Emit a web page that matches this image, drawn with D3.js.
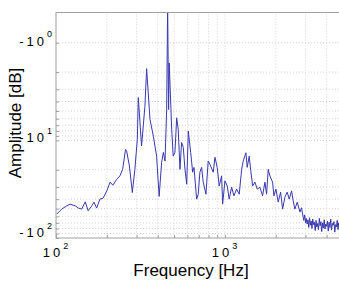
<!DOCTYPE html>
<html>
<head>
<meta charset="utf-8">
<script src="https://cdn.jsdelivr.net/npm/d3@7"></script>
<style>
html,body{margin:0;padding:0;background:#fff;overflow:hidden;}
svg{display:block;}
text{font-family:"Liberation Sans",Arial,sans-serif;fill:#000;}
</style>
</head>
<body>
<svg id="chart" width="339" height="287"></svg>
<script>
// Frequency (Hz) and amplitude values
const freqs = [101,108,116,121,130,136,142,149,155,163,168,174,182,190,200,209,217,229,239,248,258,262,272,283,293,303,307,321,336,344,360,377,394,408,422,432,442,452,458,464,468,484,494,506,518,529,542,554,567,580,594,607,627,644,656,680,695,711,728,744,772,796,815,853,873,900,925,956,969,1000,1032,1060,1096,1131,1173,1215,1256,1283,1331,1355,1393,1419,1459,1505,1553,1611,1671,1725,1765,1804,1845,1915,1950,2004,2068,2136,2195,2265,2337,2402,2481,2535,2594,2679,2780,2840,2900,2930,2965,3000,3030,3065,3100,3135,3170,3205,3240,3275,3310,3350,3385,3425,3460,3500,3540,3580,3620,3660,3700,3740,3785,3825,3870,3910,3955,4000,4045,4090,4135,4180,4230,4275,4325,4370,4420,4470,4520,4570,4620,4670,4720,4780];
const amps = [56.9,50.6,46.8,45.0,46.8,49.4,50.6,42.6,52.6,46.8,42.9,49.4,40.0,39.1,32.9,26.8,28.8,25.0,23.1,19.8,12.4,12.9,18.3,34.2,19.8,9.77,3.64,11.4,4.5,1.84,6.1,9.04,14.5,37.5,16.8,13.3,16.3,4.8,0.4,4.83,1.61,7.72,14.5,13.3,5.87,7.72,19.8,10.5,11.8,19.8,28.1,8.04,13.3,21.2,18.9,40.0,35.6,21.2,18.9,26.8,35.6,16.3,17.6,21.2,14.9,18.9,29.3,23.1,45.0,26.0,29.3,40.0,30.2,37.0,31.6,35.6,19.8,16.3,13.4,18.9,14.5,19.8,29.3,26.8,31.6,30.2,37.0,26.8,35.6,19.8,23.1,26.8,37.0,31.6,42.9,33.9,50.6,38.2,33.9,40.0,32.9,41.6,50.6,42.9,54.3,49.0,60,66,58,70,63,72,65,78,62,74,67,80,64,73,69,84,66,77,71,82,63,75,68,86,70,79,65,81,72,76,67,85,69,78,64,83,71,74,68,87,73,77,66,82,70,79];

const xTickVals = [100, 1000];
const xTickExp = ["2", "3"];
const yTickVals = [1, 10, 100];
const yTickExp = ["0", "1", "2"];
const xLabel = "Frequency [Hz]";
const yLabel = "Amplitude [dB]";

const svg = d3.select("#chart");
const L = 56, T = 12.5, B = 238, R = 343;

const x = d3.scaleLog().domain([100, 5000]).range([L, R]);
const y = d3.scaleLog().domain([0.49, 100]).range([T, B]);

// grid lines
const xGrid = [];
for (let d = 100; d <= 1000; d *= 10) for (let k = 1; k <= 9; k++) { const v = d * k; if (v > 100 && v < 5000) xGrid.push(v); }
const yGrid = [];
for (let d = 1; d <= 10; d *= 10) for (let k = 1; k <= 9; k++) yGrid.push(d * k);

const g = svg.append("g");
g.selectAll("line.xg").data(xGrid).enter().append("line")
  .attr("x1", d => x(d)).attr("x2", d => x(d)).attr("y1", T).attr("y2", B)
  .attr("stroke", "#d2d2d2").attr("stroke-width", 1).attr("stroke-dasharray", "1,2");
g.selectAll("line.yg").data(yGrid).enter().append("line")
  .attr("x1", L).attr("x2", R).attr("y1", d => y(d)).attr("y2", d => y(d))
  .attr("stroke", "#d2d2d2").attr("stroke-width", 1).attr("stroke-dasharray", "1,2");

// clip
svg.append("clipPath").attr("id", "clip").append("rect")
  .attr("x", L).attr("y", T).attr("width", R - L).attr("height", B - T);

const data = freqs.map((f, i) => [f, amps[i]]);
svg.append("path").datum(data)
  .attr("clip-path", "url(#clip)")
  .attr("fill", "none").attr("stroke", "#3838b0").attr("stroke-width", 1)
  .attr("d", d3.line().x(d => x(d[0])).y(d => y(d[1])));

// box
svg.append("rect").attr("x", L).attr("y", T).attr("width", R - L).attr("height", B - T)
  .attr("fill", "none").attr("stroke", "#a0a0a0").attr("stroke-width", 1);

// axes via d3 (ticks only, inside)
const xAxis = d3.axisBottom(x).tickValues(xGrid.concat([100])).tickSize(-3).tickFormat("");
const ax = svg.append("g").attr("transform", `translate(0,${B})`).call(xAxis);
ax.select(".domain").remove();
ax.selectAll("line").attr("stroke", "#a0a0a0");
const yAxis = d3.axisLeft(y).tickValues(yGrid.concat([100])).tickSize(-3).tickFormat("");
const ay = svg.append("g").attr("transform", `translate(${L},0)`).call(yAxis);
ay.select(".domain").remove();
ay.selectAll("line").attr("stroke", "#a0a0a0");

// x tick labels
xTickVals.forEach((v, i) => {
  const t = svg.append("text").attr("x", x(v) + 1).attr("y", 257)
    .attr("text-anchor", "middle").attr("font-size", 13).attr("letter-spacing", 3);
  t.append("tspan").text("10");
  t.append("tspan").attr("font-size", 9).attr("dy", -8.5).text(xTickExp[i]);
});
// y tick labels
const yOff = [3, 2, -1];
yTickVals.forEach((v, i) => {
  const t = svg.append("text").attr("x", 55).attr("y", y(v) + yOff[i])
    .attr("text-anchor", "end").attr("font-size", 13).attr("letter-spacing", 3);
  t.append("tspan").text("-10");
  t.append("tspan").attr("font-size", 9).attr("dy", -8.5).text(yTickExp[i]);
});

// axis titles
svg.append("text").attr("x", 191).attr("y", 276).attr("text-anchor", "middle")
  .attr("font-size", 17).text(xLabel);
svg.append("text").attr("transform", "translate(21,123) rotate(-90)")
  .attr("text-anchor", "middle").attr("font-size", 17).text(yLabel);
</script>
</body>
</html>
